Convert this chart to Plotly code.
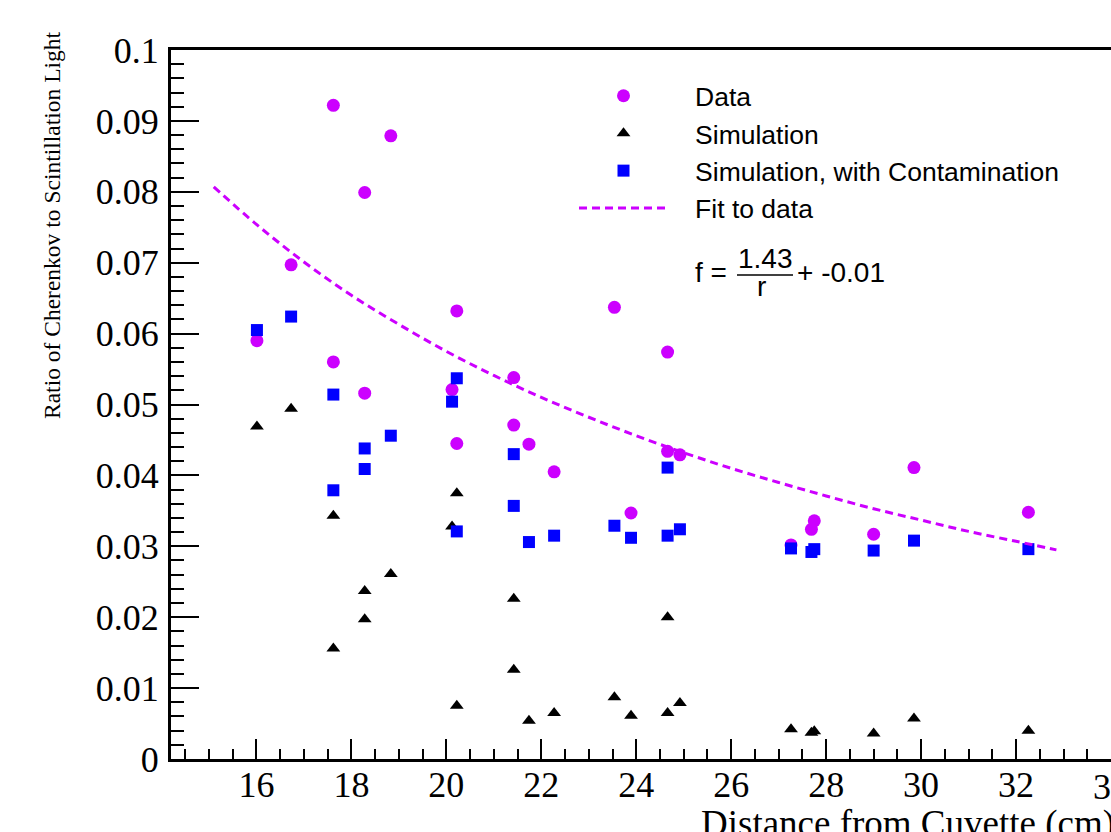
import plotly.graph_objects as go

# ------------------------------------------------------------
# Values
# ------------------------------------------------------------
data_x = [16.01, 16.73, 17.62, 17.62, 18.28, 18.28, 18.83, 20.12, 20.22, 20.22,
          21.42, 21.42, 21.74, 22.27, 23.54, 23.89, 24.66, 24.66, 24.92, 27.26,
          27.69, 27.75, 29.0, 29.85, 32.26]
data_y = [0.0590, 0.0697, 0.0922, 0.0560, 0.0799, 0.0516, 0.0879, 0.0521, 0.0632, 0.0445,
          0.0538, 0.0471, 0.0444, 0.0405, 0.0637, 0.0347, 0.0574, 0.0434, 0.0429, 0.0302,
          0.0324, 0.0336, 0.0317, 0.0411, 0.0348]

sim_x = [16.01, 16.73, 17.62, 17.62, 18.28, 18.28, 18.83, 20.12, 20.22, 20.22,
         21.42, 21.42, 21.74, 22.27, 23.54, 23.89, 24.66, 24.66, 24.92, 27.26,
         27.69, 27.75, 29.0, 29.85, 32.26]
sim_y = [0.0469, 0.0494, 0.0343, 0.0156, 0.0237, 0.0197, 0.0261, 0.0328, 0.0375, 0.0075,
         0.0226, 0.0126, 0.0054, 0.0065, 0.0087, 0.0061, 0.0200, 0.0065, 0.0079, 0.0042,
         0.0037, 0.0039, 0.0036, 0.0057, 0.0040]

cont_x = [16.01, 16.73, 17.62, 17.62, 18.28, 18.28, 18.83, 20.12, 20.22, 20.22,
          21.42, 21.42, 21.74, 22.27, 23.54, 23.89, 24.66, 24.66, 24.92, 27.26,
          27.69, 27.75, 29.0, 29.85, 32.26]
cont_y = [0.0605, 0.0624, 0.0514, 0.0379, 0.0438, 0.0409, 0.0456, 0.0504, 0.0537, 0.0321,
          0.0430, 0.0357, 0.0306, 0.0315, 0.0329, 0.0312, 0.0411, 0.0315, 0.0324, 0.0297,
          0.0292, 0.0296, 0.0294, 0.0308, 0.0296]

# dashed fit curve
fit_x = [15.1, 16, 17, 18, 19, 20, 21, 22, 23, 24, 25, 26, 27, 28, 29, 30, 31, 32, 32.85]
fit_y = [0.0807, 0.0754, 0.0701, 0.0654, 0.0613, 0.0575, 0.0541, 0.0510, 0.0482, 0.0456,
         0.0432, 0.0410, 0.0390, 0.0371, 0.0353, 0.0337, 0.0321, 0.0307, 0.0295]

legend_names = ["Data", "Simulation", "Simulation, with Contamination", "Fit to data"]
x_title = "Distance from Cuvette (cm)"
y_title = "Ratio of Cherenkov to Scintillation Light"
x_edge_label = "34"   # tick label at the right edge, cut by the picture border

# ------------------------------------------------------------
VIOLET = "#cc00ff"
BLUE = "#0000ff"
SERIF = "Liberation Serif, Times New Roman, serif"
SANS = "Liberation Sans, Arial, sans-serif"

W, H = 1111, 832
L, R, T, B = 171, 0, 50, 73
PW, PH = W - L - R, H - T - B


def px_x(p):
    return (p - L) / PW


def px_y(p):
    return (H - B - p) / PH


pad = "\u00a0\u00a0\u00a0"

fig = go.Figure()
fig.add_trace(go.Scatter(
    x=data_x, y=data_y, mode="markers", name=pad + legend_names[0],
    marker=dict(symbol="circle", size=13, color=VIOLET),
))
fig.add_trace(go.Scatter(
    x=sim_x, y=sim_y, mode="markers", name=pad + legend_names[1],
    marker=dict(symbol="triangle-up", size=12, color="black"),
))
fig.add_trace(go.Scatter(
    x=cont_x, y=cont_y, mode="markers", name=pad + legend_names[2],
    marker=dict(symbol="square", size=12, color=BLUE),
))
fig.add_trace(go.Scatter(
    x=fit_x, y=fit_y, mode="lines", name=pad + legend_names[3],
    line=dict(color=VIOLET, width=3, dash="8px,5px", shape="spline"),
))

axis_common = dict(
    showline=True, linecolor="black", linewidth=3,
    ticks="inside", tickcolor="black", tickwidth=2,
    showgrid=False, zeroline=False,
    tickfont=dict(family=SERIF, size=36, color="black"),
)
fig.update_xaxes(
    range=[14.2, 34.0], dtick=2, tick0=0, ticklen=20, mirror=True,
    ticklabelstandoff=-8,
    minor=dict(dtick=0.5, ticks="inside", ticklen=10, tickwidth=2, tickcolor="black"),
    **axis_common,
)
fig.update_yaxes(
    range=[0, 0.1], dtick=0.01, tick0=0, ticklen=28, ticklabelstandoff=2,
    minor=dict(dtick=0.002, ticks="inside", ticklen=13, tickwidth=2, tickcolor="black"),
    **axis_common,
)

# formula f = 1.43 / r + -0.01
ffont = dict(family=SANS, size=28, color="black")
annotations = [
    dict(text="f =", x=px_x(693), y=px_y(272), xanchor="left", yanchor="middle", font=ffont),
    dict(text="1.43", x=px_x(765), y=px_y(258), xanchor="center", yanchor="middle", font=ffont),
    dict(text="r", x=px_x(761), y=px_y(286), xanchor="center", yanchor="middle", font=ffont),
    dict(text="+ -0.01", x=px_x(795), y=px_y(272), xanchor="left", yanchor="middle", font=ffont),
    dict(text=x_title, x=px_x(699), y=0, yshift=-42, xanchor="left", yanchor="top",
         font=dict(family=SERIF, size=37, color="black")),
    dict(text=y_title, x=px_x(52), y=px_y(225), textangle=-90, xanchor="center", yanchor="middle",
         font=dict(family=SERIF, size=23.5, color="black")),
    # right-edge tick label, half outside the figure like in the reference
    dict(text=x_edge_label, x=1.0, y=0, yshift=-6, xanchor="center", yanchor="top",
         font=dict(family=SERIF, size=36, color="black")),
]
for a in annotations:
    a.update(xref="paper", yref="paper", showarrow=False)

fig.update_layout(
    width=W, height=H,
    margin=dict(l=L, r=R, t=T, b=B, pad=0),
    paper_bgcolor="white", plot_bgcolor="white",
    showlegend=True,
    legend=dict(
        x=px_x(574), y=px_y(72), xanchor="left", yanchor="top",
        font=dict(family=SANS, size=26.5, color="black"),
        itemwidth=89, bgcolor="rgba(0,0,0,0)", tracegroupgap=0,
    ),
    annotations=annotations,
    shapes=[dict(type="line", xref="paper", yref="paper",
                 x0=px_x(737), x1=px_x(793), y0=px_y(275), y1=px_y(275),
                 line=dict(color="black", width=1.5))],
)

page_fix = (
    "document.body.style.margin='0px';"
    "document.body.style.overflow='hidden';"
)
fig.write_html("out.html", config={"displayModeBar": False}, post_script=page_fix)
